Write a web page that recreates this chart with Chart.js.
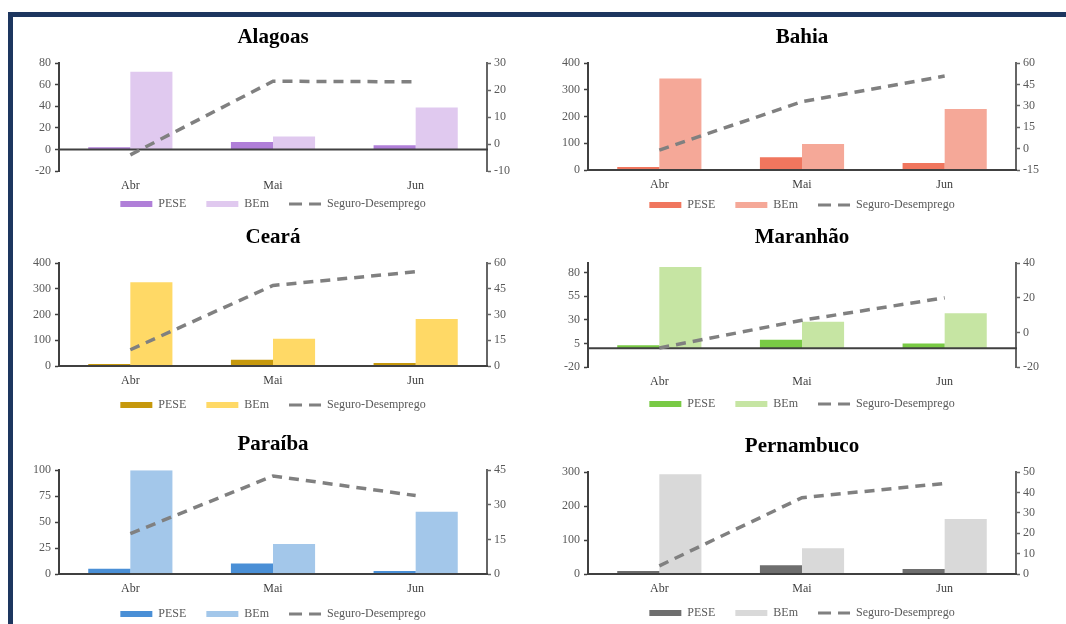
<!DOCTYPE html>
<html lang="pt-BR">
<head>
<meta charset="utf-8">
<title>PESE, BEm e Seguro-Desemprego por estado</title>
<script src="https://cdn.jsdelivr.net/npm/chart.js@4.4.1/dist/chart.umd.min.js"></script>
<style>
  html, body { margin: 0; padding: 0; background: #ffffff; width: 1066px; height: 624px; overflow: hidden; }
  #frame {
    position: absolute; left: 8px; top: 12px; width: 1100px; height: 700px;
    border-left: 5px solid #1d365f; border-top: 5px solid #1d365f; box-sizing: border-box;
  }
  canvas { position: absolute; }
</style>
</head>
<body>
<div id="frame"></div>
<script>
// Months shown on every panel
const months = ['Abr', 'Mai', 'Jun'];
const seriesNames = ['PESE', 'BEm', 'Seguro-Desemprego'];

// Alagoas
const alagoasPese = [2, 7, 4];
const alagoasBem = [72, 12, 39];
const alagoasSeguro = [-4, 23.3, 23.1];
const alagoasLeftTicks = [-20, 0, 20, 40, 60, 80];
const alagoasRightTicks = [-10, 0, 10, 20, 30];

// Bahia
const bahiaPese = [11, 48, 26];
const bahiaBem = [343, 97, 228];
const bahiaSeguro = [-1, 33, 51];
const bahiaLeftTicks = [0, 100, 200, 300, 400];
const bahiaRightTicks = [-15, 0, 15, 30, 45, 60];

// Ceará
const cearaPese = [8, 24, 12];
const cearaBem = [326, 106, 183];
const cearaSeguro = [9.5, 47, 55];
const cearaLeftTicks = [0, 100, 200, 300, 400];
const cearaRightTicks = [0, 15, 30, 45, 60];

// Maranhão (left axis runs to 90, labelled every 25 from -20)
const maranhaoPese = [3, 9, 5];
const maranhaoBem = [86, 28, 37];
const maranhaoSeguro = [-9, 7, 20];
const maranhaoLeftTicks = [-20, 5, 30, 55, 80];
const maranhaoLeftMax = 90;
const maranhaoRightTicks = [-20, 0, 20, 40];

// Paraíba
const paraibaPese = [5, 10, 3];
const paraibaBem = [100, 29, 60];
const paraibaSeguro = [17.5, 42.5, 34];
const paraibaLeftTicks = [0, 25, 50, 75, 100];
const paraibaRightTicks = [0, 15, 30, 45];

// Pernambuco
const pernambucoPese = [9, 26, 15];
const pernambucoBem = [294, 76, 162];
const pernambucoSeguro = [4, 37.5, 44.5];
const pernambucoLeftTicks = [0, 100, 200, 300];
const pernambucoRightTicks = [0, 10, 20, 30, 40, 50];

const FONT = "'Liberation Serif', 'Times New Roman', serif";

// Panel placement and palette
const panels = [
  { name: 'Alagoas', left: 15, top: 21, w: 516, h: 199, xh: 7,
    pese: alagoasPese, bem: alagoasBem, seguro: alagoasSeguro,
    lt: alagoasLeftTicks, rt: alagoasRightTicks, colors: ['#b07fd8', '#e0c9ef'] },
  { name: 'Bahia', left: 544, top: 21, w: 516, h: 200, xh: 9,
    pese: bahiaPese, bem: bahiaBem, seguro: bahiaSeguro,
    lt: bahiaLeftTicks, rt: bahiaRightTicks, colors: ['#f0765e', '#f5a898'] },
  { name: 'Ceará', left: 15, top: 221, w: 516, h: 200, xh: 13,
    pese: cearaPese, bem: cearaBem, seguro: cearaSeguro,
    lt: cearaLeftTicks, rt: cearaRightTicks, colors: ['#c6980c', '#ffd966'] },
  { name: 'Maranhão', left: 544, top: 221, w: 516, h: 199, xh: 11,
    pese: maranhaoPese, bem: maranhaoBem, seguro: maranhaoSeguro,
    lt: maranhaoLeftTicks, leftMax: maranhaoLeftMax, rt: maranhaoRightTicks, colors: ['#79ca45', '#c6e5a3'] },
  { name: 'Paraíba', left: 15, top: 428, w: 516, h: 202, xh: 14,
    pese: paraibaPese, bem: paraibaBem, seguro: paraibaSeguro,
    lt: paraibaLeftTicks, rt: paraibaRightTicks, colors: ['#4a8fd6', '#a3c7ea'] },
  { name: 'Pernambuco', left: 544, top: 430, w: 516, h: 199, xh: 13,
    pese: pernambucoPese, bem: pernambucoBem, seguro: pernambucoSeguro,
    lt: pernambucoLeftTicks, rt: pernambucoRightTicks, colors: ['#6e6e6e', '#d9d9d9'] }
];

// Horizontal axis line at the left-axis zero, drawn between the bars and the dashed line
const zeroLine = {
  id: 'zeroLine',
  beforeDatasetDraw(chart, args) {
    if (args.meta.type !== 'line') return;
    const y = chart.scales.y.getPixelForValue(0);
    const { left, right } = chart.chartArea;
    const ctx = chart.ctx;
    ctx.save();
    ctx.strokeStyle = '#404040';
    ctx.lineWidth = 2;
    ctx.beginPath();
    ctx.moveTo(left - 1, y);
    ctx.lineTo(right + 1, y);
    ctx.stroke();
    ctx.restore();
  }
};

function legendItems(chart) {
  return chart.data.datasets.map((ds, i) => {
    const isLine = ds.type === 'line';
    return {
      text: ds.label,
      datasetIndex: i,
      fillStyle: isLine ? 'rgba(0,0,0,0)' : ds.backgroundColor,
      strokeStyle: isLine ? ds.borderColor : ds.backgroundColor,
      lineWidth: isLine ? 3 : 0,
      lineDash: isLine ? [13, 7] : [],
      pointStyle: isLine ? 'line' : 'rect',
      fontColor: '#595959',
      hidden: false
    };
  });
}

function valueAxis(position, ticks, max, pad, borderColor) {
  return {
    position: position,
    min: ticks[0],
    max: max,
    afterBuildTicks: s => { s.ticks = ticks.map(v => ({ value: v })); },
    afterFit: s => { s.width = 40; },
    grid: { drawOnChartArea: false, tickLength: 4, tickColor: borderColor, tickWidth: 1.5 },
    border: { color: borderColor, width: 2 },
    ticks: { padding: pad, color: '#595959', font: { family: FONT, size: 12 } }
  };
}

panels.forEach(p => {
  const canvas = document.createElement('canvas');
  canvas.width = p.w;
  canvas.height = p.h;
  canvas.style.left = p.left + 'px';
  canvas.style.top = p.top + 'px';
  canvas.style.width = p.w + 'px';
  canvas.style.height = p.h + 'px';
  document.body.appendChild(canvas);

  new Chart(canvas, {
    type: 'bar',
    data: {
      labels: months,
      datasets: [
        { label: seriesNames[0], data: p.pese, backgroundColor: p.colors[0], yAxisID: 'y', order: 1 },
        { label: seriesNames[1], data: p.bem, backgroundColor: p.colors[1], yAxisID: 'y', order: 1 },
        { type: 'line', label: seriesNames[2], data: p.seguro, yAxisID: 'y1', order: 0,
          borderColor: '#808080', borderWidth: 3.5, borderDash: [10, 7], borderCapStyle: 'butt',
          pointRadius: 0, pointHoverRadius: 0, tension: 0, fill: false }
      ]
    },
    options: {
      responsive: false,
      animation: false,
      devicePixelRatio: 1,
      layout: { padding: { left: 4, right: 4, top: 0, bottom: 0 } },
      datasets: { bar: { categoryPercentage: 0.59, barPercentage: 1, borderWidth: 0 } },
      plugins: {
        title: {
          display: true, text: p.name, color: '#000000',
          font: { family: FONT, size: 21, weight: 'bold' },
          padding: { top: 4, bottom: 13 }
        },
        legend: {
          position: 'bottom',
          labels: {
            usePointStyle: true, pointStyleWidth: 32, boxWidth: 32, boxHeight: 6,
            padding: 20, color: '#595959', font: { family: FONT, size: 12 },
            generateLabels: legendItems
          }
        },
        tooltip: { enabled: false }
      },
      scales: {
        x: {
          grid: { display: false, drawTicks: false },
          border: { display: false },
          ticks: { padding: 8, color: '#404040', maxRotation: 0, font: { family: FONT, size: 12 } },
          afterFit: s => {
            // month labels sit below a short axis box, so let them draw past it
            s.height = p.xh;
            s._computeLabelArea = () => undefined;
          }
        },
        y: valueAxis('left', p.lt, p.leftMax !== undefined ? p.leftMax : p.lt[p.lt.length - 1], 4, '#404040'),
        y1: valueAxis('right', p.rt, p.rt[p.rt.length - 1], 3, '#666666')
      }
    },
    plugins: [zeroLine]
  });
});
</script>
</body>
</html>
